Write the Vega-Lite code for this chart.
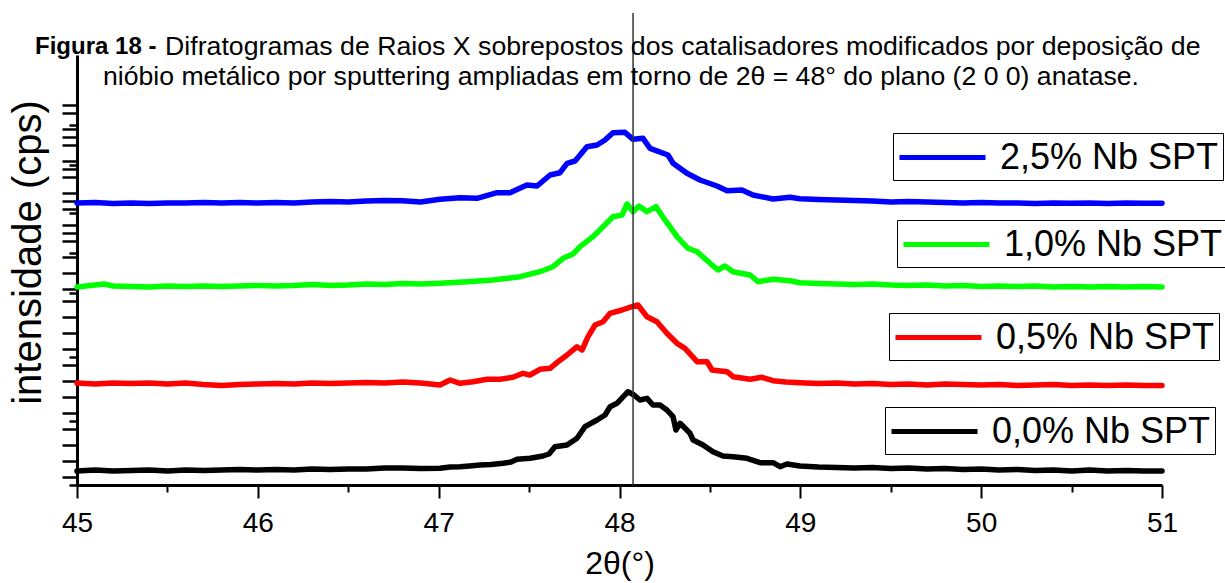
{
"$schema": "https://vega.github.io/schema/vega-lite/v6.json",
"autosize": "none",
"width": 1085,
"height": 430,
"padding": {"left": 77, "top": 55, "right": 63, "bottom": 98},
"background": "white",
"config": {"view": {"stroke": null}, "axis": {"grid": false, "domainColor": "black", "tickColor": "black", "labelColor": "black", "titleColor": "black", "labelFont": "Liberation Sans", "titleFont": "Liberation Sans"},
 "legend": {"orient": "none", "title": null, "strokeColor": "black", "padding": 4, "cornerRadius": 0, "symbolType": "M-2.39,0H2.39", "symbolStrokeWidth": 5, "symbolSize": 1296, "symbolOffset": 25, "labelFontSize": 36, "labelFont": "Liberation Sans", "labelColor": "black", "labelOffset": 37, "labelLimit": 400}},
"datasets": {
"curvas": [
{"amostra":"0,0% Nb SPT","theta":45.0,"intensidade":14},{"amostra":"0,0% Nb SPT","theta":45.1,"intensidade":15},{"amostra":"0,0% Nb SPT","theta":45.2,"intensidade":14},{"amostra":"0,0% Nb SPT","theta":45.3,"intensidade":14.5},{"amostra":"0,0% Nb SPT","theta":45.4,"intensidade":15},{"amostra":"0,0% Nb SPT","theta":45.5,"intensidade":14},{"amostra":"0,0% Nb SPT","theta":45.6,"intensidade":15},{"amostra":"0,0% Nb SPT","theta":45.7,"intensidade":14.5},{"amostra":"0,0% Nb SPT","theta":45.8,"intensidade":15},{"amostra":"0,0% Nb SPT","theta":45.9,"intensidade":15.5},{"amostra":"0,0% Nb SPT","theta":46.0,"intensidade":15},{"amostra":"0,0% Nb SPT","theta":46.1,"intensidade":15.5},{"amostra":"0,0% Nb SPT","theta":46.2,"intensidade":15},{"amostra":"0,0% Nb SPT","theta":46.3,"intensidade":16},{"amostra":"0,0% Nb SPT","theta":46.4,"intensidade":15.5},{"amostra":"0,0% Nb SPT","theta":46.5,"intensidade":16},{"amostra":"0,0% Nb SPT","theta":46.6,"intensidade":16},{"amostra":"0,0% Nb SPT","theta":46.7,"intensidade":17},{"amostra":"0,0% Nb SPT","theta":46.8,"intensidade":17},{"amostra":"0,0% Nb SPT","theta":46.9,"intensidade":16.5},{"amostra":"0,0% Nb SPT","theta":47.007,"intensidade":16.7},{"amostra":"0,0% Nb SPT","theta":47.063,"intensidade":18},{"amostra":"0,0% Nb SPT","theta":47.118,"intensidade":18.3},{"amostra":"0,0% Nb SPT","theta":47.17,"intensidade":19},{"amostra":"0,0% Nb SPT","theta":47.229,"intensidade":20},{"amostra":"0,0% Nb SPT","theta":47.29,"intensidade":20.5},{"amostra":"0,0% Nb SPT","theta":47.356,"intensidade":21.7},{"amostra":"0,0% Nb SPT","theta":47.4,"intensidade":23},{"amostra":"0,0% Nb SPT","theta":47.433,"intensidade":25.7},{"amostra":"0,0% Nb SPT","theta":47.505,"intensidade":26.7},{"amostra":"0,0% Nb SPT","theta":47.577,"intensidade":29},{"amostra":"0,0% Nb SPT","theta":47.61,"intensidade":31},{"amostra":"0,0% Nb SPT","theta":47.643,"intensidade":38.3},{"amostra":"0,0% Nb SPT","theta":47.71,"intensidade":40},{"amostra":"0,0% Nb SPT","theta":47.765,"intensidade":46.7},{"amostra":"0,0% Nb SPT","theta":47.809,"intensidade":58.3},{"amostra":"0,0% Nb SPT","theta":47.876,"intensidade":65},{"amostra":"0,0% Nb SPT","theta":47.92,"intensidade":70},{"amostra":"0,0% Nb SPT","theta":47.948,"intensidade":78.3},{"amostra":"0,0% Nb SPT","theta":47.986,"intensidade":81.7},{"amostra":"0,0% Nb SPT","theta":48.047,"intensidade":93.3},{"amostra":"0,0% Nb SPT","theta":48.08,"intensidade":90},{"amostra":"0,0% Nb SPT","theta":48.113,"intensidade":85},{"amostra":"0,0% Nb SPT","theta":48.152,"intensidade":86.7},{"amostra":"0,0% Nb SPT","theta":48.185,"intensidade":80},{"amostra":"0,0% Nb SPT","theta":48.224,"intensidade":80},{"amostra":"0,0% Nb SPT","theta":48.262,"intensidade":75},{"amostra":"0,0% Nb SPT","theta":48.296,"intensidade":68.3},{"amostra":"0,0% Nb SPT","theta":48.312,"intensidade":55},{"amostra":"0,0% Nb SPT","theta":48.335,"intensidade":61.7},{"amostra":"0,0% Nb SPT","theta":48.39,"intensidade":51.7},{"amostra":"0,0% Nb SPT","theta":48.407,"intensidade":45},{"amostra":"0,0% Nb SPT","theta":48.462,"intensidade":40},{"amostra":"0,0% Nb SPT","theta":48.517,"intensidade":33.3},{"amostra":"0,0% Nb SPT","theta":48.572,"intensidade":29},{"amostra":"0,0% Nb SPT","theta":48.628,"intensidade":28.3},{"amostra":"0,0% Nb SPT","theta":48.705,"intensidade":26.7},{"amostra":"0,0% Nb SPT","theta":48.777,"intensidade":22.3},{"amostra":"0,0% Nb SPT","theta":48.849,"intensidade":22.3},{"amostra":"0,0% Nb SPT","theta":48.888,"intensidade":18.3},{"amostra":"0,0% Nb SPT","theta":48.926,"intensidade":21},{"amostra":"0,0% Nb SPT","theta":48.998,"intensidade":19},{"amostra":"0,0% Nb SPT","theta":49.1,"intensidade":18},{"amostra":"0,0% Nb SPT","theta":49.2,"intensidade":17.5},{"amostra":"0,0% Nb SPT","theta":49.3,"intensidade":17},{"amostra":"0,0% Nb SPT","theta":49.4,"intensidade":17.5},{"amostra":"0,0% Nb SPT","theta":49.5,"intensidade":16.5},{"amostra":"0,0% Nb SPT","theta":49.6,"intensidade":17},{"amostra":"0,0% Nb SPT","theta":49.7,"intensidade":16},{"amostra":"0,0% Nb SPT","theta":49.8,"intensidade":16.5},{"amostra":"0,0% Nb SPT","theta":49.9,"intensidade":15.5},{"amostra":"0,0% Nb SPT","theta":50.0,"intensidade":16},{"amostra":"0,0% Nb SPT","theta":50.1,"intensidade":15},{"amostra":"0,0% Nb SPT","theta":50.2,"intensidade":15.5},{"amostra":"0,0% Nb SPT","theta":50.3,"intensidade":14.5},{"amostra":"0,0% Nb SPT","theta":50.4,"intensidade":15},{"amostra":"0,0% Nb SPT","theta":50.5,"intensidade":14},{"amostra":"0,0% Nb SPT","theta":50.6,"intensidade":15},{"amostra":"0,0% Nb SPT","theta":50.7,"intensidade":14},{"amostra":"0,0% Nb SPT","theta":50.8,"intensidade":14.5},{"amostra":"0,0% Nb SPT","theta":50.9,"intensidade":14},{"amostra":"0,0% Nb SPT","theta":51.0,"intensidade":14},

{"amostra":"0,5% Nb SPT","theta":45.0,"intensidade":102},{"amostra":"0,5% Nb SPT","theta":45.1,"intensidade":101},{"amostra":"0,5% Nb SPT","theta":45.2,"intensidade":102},{"amostra":"0,5% Nb SPT","theta":45.3,"intensidade":101.5},{"amostra":"0,5% Nb SPT","theta":45.4,"intensidade":102},{"amostra":"0,5% Nb SPT","theta":45.5,"intensidade":101},{"amostra":"0,5% Nb SPT","theta":45.6,"intensidade":102},{"amostra":"0,5% Nb SPT","theta":45.7,"intensidade":100.5},{"amostra":"0,5% Nb SPT","theta":45.8,"intensidade":99.5},{"amostra":"0,5% Nb SPT","theta":45.9,"intensidade":100.5},{"amostra":"0,5% Nb SPT","theta":46.0,"intensidade":101},{"amostra":"0,5% Nb SPT","theta":46.1,"intensidade":101.5},{"amostra":"0,5% Nb SPT","theta":46.2,"intensidade":101},{"amostra":"0,5% Nb SPT","theta":46.3,"intensidade":102},{"amostra":"0,5% Nb SPT","theta":46.4,"intensidade":101.5},{"amostra":"0,5% Nb SPT","theta":46.5,"intensidade":102},{"amostra":"0,5% Nb SPT","theta":46.6,"intensidade":102.5},{"amostra":"0,5% Nb SPT","theta":46.7,"intensidade":102},{"amostra":"0,5% Nb SPT","theta":46.8,"intensidade":103},{"amostra":"0,5% Nb SPT","theta":46.9,"intensidade":102},{"amostra":"0,5% Nb SPT","theta":47.007,"intensidade":100},{"amostra":"0,5% Nb SPT","theta":47.063,"intensidade":105},{"amostra":"0,5% Nb SPT","theta":47.118,"intensidade":101.7},{"amostra":"0,5% Nb SPT","theta":47.19,"intensidade":103.3},{"amostra":"0,5% Nb SPT","theta":47.267,"intensidade":105.7},{"amostra":"0,5% Nb SPT","theta":47.339,"intensidade":105.7},{"amostra":"0,5% Nb SPT","theta":47.411,"intensidade":107.7},{"amostra":"0,5% Nb SPT","theta":47.466,"intensidade":111.7},{"amostra":"0,5% Nb SPT","theta":47.505,"intensidade":110},{"amostra":"0,5% Nb SPT","theta":47.56,"intensidade":115.7},{"amostra":"0,5% Nb SPT","theta":47.616,"intensidade":116.7},{"amostra":"0,5% Nb SPT","theta":47.66,"intensidade":123.3},{"amostra":"0,5% Nb SPT","theta":47.71,"intensidade":130},{"amostra":"0,5% Nb SPT","theta":47.765,"intensidade":138.3},{"amostra":"0,5% Nb SPT","theta":47.793,"intensidade":135},{"amostra":"0,5% Nb SPT","theta":47.826,"intensidade":148.3},{"amostra":"0,5% Nb SPT","theta":47.865,"intensidade":160},{"amostra":"0,5% Nb SPT","theta":47.909,"intensidade":163.3},{"amostra":"0,5% Nb SPT","theta":47.948,"intensidade":171.7},{"amostra":"0,5% Nb SPT","theta":48.014,"intensidade":175},{"amostra":"0,5% Nb SPT","theta":48.069,"intensidade":178.3},{"amostra":"0,5% Nb SPT","theta":48.102,"intensidade":180},{"amostra":"0,5% Nb SPT","theta":48.152,"intensidade":168.3},{"amostra":"0,5% Nb SPT","theta":48.207,"intensidade":163.3},{"amostra":"0,5% Nb SPT","theta":48.262,"intensidade":151.7},{"amostra":"0,5% Nb SPT","theta":48.318,"intensidade":141.7},{"amostra":"0,5% Nb SPT","theta":48.362,"intensidade":136.7},{"amostra":"0,5% Nb SPT","theta":48.429,"intensidade":123.3},{"amostra":"0,5% Nb SPT","theta":48.484,"intensidade":123.3},{"amostra":"0,5% Nb SPT","theta":48.512,"intensidade":115},{"amostra":"0,5% Nb SPT","theta":48.595,"intensidade":113.3},{"amostra":"0,5% Nb SPT","theta":48.628,"intensidade":108.3},{"amostra":"0,5% Nb SPT","theta":48.722,"intensidade":105.7},{"amostra":"0,5% Nb SPT","theta":48.788,"intensidade":107.7},{"amostra":"0,5% Nb SPT","theta":48.849,"intensidade":104.3},{"amostra":"0,5% Nb SPT","theta":48.92,"intensidade":103},{"amostra":"0,5% Nb SPT","theta":48.998,"intensidade":102.3},{"amostra":"0,5% Nb SPT","theta":49.1,"intensidade":101.5},{"amostra":"0,5% Nb SPT","theta":49.2,"intensidade":102},{"amostra":"0,5% Nb SPT","theta":49.3,"intensidade":101},{"amostra":"0,5% Nb SPT","theta":49.4,"intensidade":101.5},{"amostra":"0,5% Nb SPT","theta":49.5,"intensidade":100.5},{"amostra":"0,5% Nb SPT","theta":49.6,"intensidade":101},{"amostra":"0,5% Nb SPT","theta":49.7,"intensidade":100},{"amostra":"0,5% Nb SPT","theta":49.8,"intensidade":101},{"amostra":"0,5% Nb SPT","theta":49.9,"intensidade":100.5},{"amostra":"0,5% Nb SPT","theta":50.0,"intensidade":100},{"amostra":"0,5% Nb SPT","theta":50.1,"intensidade":100.5},{"amostra":"0,5% Nb SPT","theta":50.2,"intensidade":99.5},{"amostra":"0,5% Nb SPT","theta":50.3,"intensidade":100},{"amostra":"0,5% Nb SPT","theta":50.4,"intensidade":100.5},{"amostra":"0,5% Nb SPT","theta":50.5,"intensidade":99.5},{"amostra":"0,5% Nb SPT","theta":50.6,"intensidade":100},{"amostra":"0,5% Nb SPT","theta":50.7,"intensidade":99.5},{"amostra":"0,5% Nb SPT","theta":50.8,"intensidade":100},{"amostra":"0,5% Nb SPT","theta":50.9,"intensidade":99.5},{"amostra":"0,5% Nb SPT","theta":51.0,"intensidade":99.5},

{"amostra":"1,0% Nb SPT","theta":45.0,"intensidade":198},{"amostra":"1,0% Nb SPT","theta":45.1,"intensidade":200},{"amostra":"1,0% Nb SPT","theta":45.15,"intensidade":201},{"amostra":"1,0% Nb SPT","theta":45.2,"intensidade":199},{"amostra":"1,0% Nb SPT","theta":45.3,"intensidade":198.5},{"amostra":"1,0% Nb SPT","theta":45.4,"intensidade":198},{"amostra":"1,0% Nb SPT","theta":45.5,"intensidade":199},{"amostra":"1,0% Nb SPT","theta":45.6,"intensidade":198.5},{"amostra":"1,0% Nb SPT","theta":45.7,"intensidade":199},{"amostra":"1,0% Nb SPT","theta":45.8,"intensidade":198.5},{"amostra":"1,0% Nb SPT","theta":45.9,"intensidade":199},{"amostra":"1,0% Nb SPT","theta":46.0,"intensidade":199.5},{"amostra":"1,0% Nb SPT","theta":46.1,"intensidade":199},{"amostra":"1,0% Nb SPT","theta":46.2,"intensidade":199.5},{"amostra":"1,0% Nb SPT","theta":46.3,"intensidade":200.5},{"amostra":"1,0% Nb SPT","theta":46.4,"intensidade":199.5},{"amostra":"1,0% Nb SPT","theta":46.5,"intensidade":200},{"amostra":"1,0% Nb SPT","theta":46.6,"intensidade":201},{"amostra":"1,0% Nb SPT","theta":46.7,"intensidade":200.5},{"amostra":"1,0% Nb SPT","theta":46.8,"intensidade":201.5},{"amostra":"1,0% Nb SPT","theta":46.9,"intensidade":201},{"amostra":"1,0% Nb SPT","theta":47.007,"intensidade":201.7},{"amostra":"1,0% Nb SPT","theta":47.157,"intensidade":203.3},{"amostra":"1,0% Nb SPT","theta":47.301,"intensidade":205},{"amostra":"1,0% Nb SPT","theta":47.45,"intensidade":208.3},{"amostra":"1,0% Nb SPT","theta":47.56,"intensidade":213.3},{"amostra":"1,0% Nb SPT","theta":47.632,"intensidade":218.3},{"amostra":"1,0% Nb SPT","theta":47.688,"intensidade":226.7},{"amostra":"1,0% Nb SPT","theta":47.743,"intensidade":231},{"amostra":"1,0% Nb SPT","theta":47.782,"intensidade":238.3},{"amostra":"1,0% Nb SPT","theta":47.853,"intensidade":248.3},{"amostra":"1,0% Nb SPT","theta":47.909,"intensidade":258.3},{"amostra":"1,0% Nb SPT","theta":47.964,"intensidade":268.3},{"amostra":"1,0% Nb SPT","theta":48.014,"intensidade":270},{"amostra":"1,0% Nb SPT","theta":48.042,"intensidade":281},{"amostra":"1,0% Nb SPT","theta":48.075,"intensidade":273.3},{"amostra":"1,0% Nb SPT","theta":48.108,"intensidade":279},{"amostra":"1,0% Nb SPT","theta":48.152,"intensidade":273.3},{"amostra":"1,0% Nb SPT","theta":48.202,"intensidade":278.3},{"amostra":"1,0% Nb SPT","theta":48.241,"intensidade":267.7},{"amostra":"1,0% Nb SPT","theta":48.279,"intensidade":258.3},{"amostra":"1,0% Nb SPT","theta":48.318,"intensidade":248.3},{"amostra":"1,0% Nb SPT","theta":48.379,"intensidade":236.7},{"amostra":"1,0% Nb SPT","theta":48.429,"intensidade":233.3},{"amostra":"1,0% Nb SPT","theta":48.501,"intensidade":221.7},{"amostra":"1,0% Nb SPT","theta":48.545,"intensidade":215},{"amostra":"1,0% Nb SPT","theta":48.583,"intensidade":219},{"amostra":"1,0% Nb SPT","theta":48.628,"intensidade":213.3},{"amostra":"1,0% Nb SPT","theta":48.722,"intensidade":210},{"amostra":"1,0% Nb SPT","theta":48.766,"intensidade":203.3},{"amostra":"1,0% Nb SPT","theta":48.849,"intensidade":205.7},{"amostra":"1,0% Nb SPT","theta":48.943,"intensidade":204.3},{"amostra":"1,0% Nb SPT","theta":48.998,"intensidade":202.3},{"amostra":"1,0% Nb SPT","theta":49.1,"intensidade":201.5},{"amostra":"1,0% Nb SPT","theta":49.2,"intensidade":201},{"amostra":"1,0% Nb SPT","theta":49.3,"intensidade":200.5},{"amostra":"1,0% Nb SPT","theta":49.4,"intensidade":201},{"amostra":"1,0% Nb SPT","theta":49.5,"intensidade":200},{"amostra":"1,0% Nb SPT","theta":49.6,"intensidade":199.5},{"amostra":"1,0% Nb SPT","theta":49.7,"intensidade":200},{"amostra":"1,0% Nb SPT","theta":49.8,"intensidade":199},{"amostra":"1,0% Nb SPT","theta":49.9,"intensidade":199.5},{"amostra":"1,0% Nb SPT","theta":50.0,"intensidade":198.5},{"amostra":"1,0% Nb SPT","theta":50.1,"intensidade":199},{"amostra":"1,0% Nb SPT","theta":50.2,"intensidade":198.5},{"amostra":"1,0% Nb SPT","theta":50.3,"intensidade":199},{"amostra":"1,0% Nb SPT","theta":50.4,"intensidade":198},{"amostra":"1,0% Nb SPT","theta":50.5,"intensidade":198.5},{"amostra":"1,0% Nb SPT","theta":50.6,"intensidade":198},{"amostra":"1,0% Nb SPT","theta":50.7,"intensidade":198.5},{"amostra":"1,0% Nb SPT","theta":50.8,"intensidade":198},{"amostra":"1,0% Nb SPT","theta":50.9,"intensidade":198.5},{"amostra":"1,0% Nb SPT","theta":51.0,"intensidade":198},

{"amostra":"2,5% Nb SPT","theta":45.0,"intensidade":282},{"amostra":"2,5% Nb SPT","theta":45.1,"intensidade":282.5},{"amostra":"2,5% Nb SPT","theta":45.2,"intensidade":281.5},{"amostra":"2,5% Nb SPT","theta":45.3,"intensidade":282},{"amostra":"2,5% Nb SPT","theta":45.4,"intensidade":281.5},{"amostra":"2,5% Nb SPT","theta":45.5,"intensidade":282},{"amostra":"2,5% Nb SPT","theta":45.6,"intensidade":282},{"amostra":"2,5% Nb SPT","theta":45.7,"intensidade":282.5},{"amostra":"2,5% Nb SPT","theta":45.8,"intensidade":282},{"amostra":"2,5% Nb SPT","theta":45.9,"intensidade":282.5},{"amostra":"2,5% Nb SPT","theta":46.0,"intensidade":282},{"amostra":"2,5% Nb SPT","theta":46.1,"intensidade":282.5},{"amostra":"2,5% Nb SPT","theta":46.2,"intensidade":282},{"amostra":"2,5% Nb SPT","theta":46.3,"intensidade":283},{"amostra":"2,5% Nb SPT","theta":46.4,"intensidade":283.5},{"amostra":"2,5% Nb SPT","theta":46.5,"intensidade":283},{"amostra":"2,5% Nb SPT","theta":46.6,"intensidade":284},{"amostra":"2,5% Nb SPT","theta":46.7,"intensidade":284.5},{"amostra":"2,5% Nb SPT","theta":46.8,"intensidade":284.3},{"amostra":"2,5% Nb SPT","theta":46.9,"intensidade":283},{"amostra":"2,5% Nb SPT","theta":47.007,"intensidade":285.7},{"amostra":"2,5% Nb SPT","theta":47.118,"intensidade":287.3},{"amostra":"2,5% Nb SPT","theta":47.212,"intensidade":286.7},{"amostra":"2,5% Nb SPT","theta":47.323,"intensidade":292.3},{"amostra":"2,5% Nb SPT","theta":47.394,"intensidade":292.3},{"amostra":"2,5% Nb SPT","theta":47.488,"intensidade":300},{"amostra":"2,5% Nb SPT","theta":47.544,"intensidade":299},{"amostra":"2,5% Nb SPT","theta":47.616,"intensidade":310},{"amostra":"2,5% Nb SPT","theta":47.671,"intensidade":312.3},{"amostra":"2,5% Nb SPT","theta":47.71,"intensidade":321.7},{"amostra":"2,5% Nb SPT","theta":47.754,"intensidade":324},{"amostra":"2,5% Nb SPT","theta":47.82,"intensidade":338.3},{"amostra":"2,5% Nb SPT","theta":47.876,"intensidade":340},{"amostra":"2,5% Nb SPT","theta":47.92,"intensidade":345},{"amostra":"2,5% Nb SPT","theta":47.964,"intensidade":352.3},{"amostra":"2,5% Nb SPT","theta":48.03,"intensidade":352.7},{"amostra":"2,5% Nb SPT","theta":48.075,"intensidade":345.7},{"amostra":"2,5% Nb SPT","theta":48.13,"intensidade":346.7},{"amostra":"2,5% Nb SPT","theta":48.169,"intensidade":336.7},{"amostra":"2,5% Nb SPT","theta":48.268,"intensidade":330},{"amostra":"2,5% Nb SPT","theta":48.296,"intensidade":321.7},{"amostra":"2,5% Nb SPT","theta":48.373,"intensidade":311.7},{"amostra":"2,5% Nb SPT","theta":48.445,"intensidade":305},{"amostra":"2,5% Nb SPT","theta":48.539,"intensidade":299},{"amostra":"2,5% Nb SPT","theta":48.595,"intensidade":294.3},{"amostra":"2,5% Nb SPT","theta":48.677,"intensidade":295},{"amostra":"2,5% Nb SPT","theta":48.738,"intensidade":290},{"amostra":"2,5% Nb SPT","theta":48.849,"intensidade":286},{"amostra":"2,5% Nb SPT","theta":48.943,"intensidade":287.7},{"amostra":"2,5% Nb SPT","theta":48.998,"intensidade":286.3},{"amostra":"2,5% Nb SPT","theta":49.1,"intensidade":285.5},{"amostra":"2,5% Nb SPT","theta":49.2,"intensidade":285},{"amostra":"2,5% Nb SPT","theta":49.3,"intensidade":284.5},{"amostra":"2,5% Nb SPT","theta":49.4,"intensidade":284},{"amostra":"2,5% Nb SPT","theta":49.5,"intensidade":283},{"amostra":"2,5% Nb SPT","theta":49.6,"intensidade":283.5},{"amostra":"2,5% Nb SPT","theta":49.7,"intensidade":283},{"amostra":"2,5% Nb SPT","theta":49.8,"intensidade":282.5},{"amostra":"2,5% Nb SPT","theta":49.9,"intensidade":282},{"amostra":"2,5% Nb SPT","theta":50.0,"intensidade":282.5},{"amostra":"2,5% Nb SPT","theta":50.1,"intensidade":282},{"amostra":"2,5% Nb SPT","theta":50.2,"intensidade":282},{"amostra":"2,5% Nb SPT","theta":50.3,"intensidade":281.5},{"amostra":"2,5% Nb SPT","theta":50.4,"intensidade":282},{"amostra":"2,5% Nb SPT","theta":50.5,"intensidade":281.7},{"amostra":"2,5% Nb SPT","theta":50.6,"intensidade":282},{"amostra":"2,5% Nb SPT","theta":50.7,"intensidade":281.5},{"amostra":"2,5% Nb SPT","theta":50.8,"intensidade":282},{"amostra":"2,5% Nb SPT","theta":50.9,"intensidade":281.7},{"amostra":"2,5% Nb SPT","theta":51.0,"intensidade":281.7}
]
},
"layer": [
{
"layer": [
{
"data": {"name": "curvas"},
"encoding": {
"x": {"field": "theta", "type": "quantitative", "scale": {"domain": [45, 51], "nice": false, "zero": false},
 "axis": {"title": "2θ(°)", "values": [45,46,47,48,49,50,51], "format": "d", "tickSize": 13, "tickWidth": 2, "domainWidth": 3, "labelFontSize": 28, "labelPadding": 11, "labelFlush": false, "titleFontSize": 32, "titleFontWeight": "normal", "titleY": 88, "titleBaseline": "alphabetic"}},
"y": {"field": "intensidade", "type": "quantitative", "scale": {"domain": [0, 430], "nice": false, "zero": false},
 "axis": {"title": "intensidade (cps)", "values": [0,16,32,48,64,80,96,112,128,144,160,176,192,200,208,224,232,240,256,264,272,288,296,304,320,328,336,352,360,368,384], "labels": false, "tickSize": 8, "tickWidth": 2.5, "domainWidth": 3, "titleFontSize": 40, "titleFontWeight": "normal", "titleAngle": 270, "titleX": -37, "titleY": 197, "titleAlign": "center", "titleBaseline": "alphabetic"}}
},
"layer": [
{"transform": [{"filter": "datum.amostra === '0,0% Nb SPT'"}], "mark": {"type": "line", "strokeWidth": 5.5, "strokeJoin": "round", "strokeCap": "round"},
 "encoding": {"color": {"field": "amostra", "type": "nominal", "scale": {"domain": ["0,0% Nb SPT"], "range": ["#000000"]}, "legend": {"legendX": 808, "legendY": 352}}}},
{"transform": [{"filter": "datum.amostra === '0,5% Nb SPT'"}], "mark": {"type": "line", "strokeWidth": 5.5, "strokeJoin": "round", "strokeCap": "round"},
 "encoding": {"color": {"field": "amostra", "type": "nominal", "scale": {"domain": ["0,5% Nb SPT"], "range": ["#FF0000"]}, "legend": {"legendX": 812, "legendY": 258}}}},
{"transform": [{"filter": "datum.amostra === '1,0% Nb SPT'"}], "mark": {"type": "line", "strokeWidth": 5.5, "strokeJoin": "round", "strokeCap": "round"},
 "encoding": {"color": {"field": "amostra", "type": "nominal", "scale": {"domain": ["1,0% Nb SPT"], "range": ["#00FF00"]}, "legend": {"legendX": 820, "legendY": 165}}}},
{"transform": [{"filter": "datum.amostra === '2,5% Nb SPT'"}], "mark": {"type": "line", "strokeWidth": 5.5, "strokeJoin": "round", "strokeCap": "round"},
 "encoding": {"color": {"field": "amostra", "type": "nominal", "scale": {"domain": ["2,5% Nb SPT"], "range": ["#0000FF"]}, "legend": {"legendX": 816, "legendY": 78}}}}
],
"resolve": {"scale": {"color": "independent"}, "legend": {"color": "independent"}}
},
{"data": {"values": [{"rotulo": "linha"}]}, "mark": {"type": "rule", "color": "#333333", "strokeWidth": 1.5, "clip": false},
 "encoding": {"x": {"datum": 48.075, "type": "quantitative"}, "y": {"datum": 0, "type": "quantitative"}, "y2": {"datum": 472}}},
{"data": {"values": [{"rotulo": "Figura 18 -"}]}, "mark": {"type": "text", "font": "Liberation Sans", "fontSize": 24, "fontWeight": "bold", "align": "left", "baseline": "middle", "color": "black"},
 "encoding": {"x": {"datum": 44.768, "type": "quantitative"}, "y": {"datum": 438, "type": "quantitative"}, "text": {"field": "rotulo"}}},
{"data": {"values": [{"rotulo": "Difratogramas de Raios X sobrepostos dos catalisadores modificados por deposição de"}]}, "mark": {"type": "text", "font": "Liberation Sans", "fontSize": 26.7, "align": "left", "baseline": "middle", "color": "black"},
 "encoding": {"x": {"datum": 45.487, "type": "quantitative"}, "y": {"datum": 438, "type": "quantitative"}, "text": {"field": "rotulo"}}},
{"data": {"values": [{"rotulo": "nióbio metálico por sputtering ampliadas em torno de 2θ = 48° do plano (2 0 0) anatase."}]}, "mark": {"type": "text", "font": "Liberation Sans", "fontSize": 26.6, "align": "center", "baseline": "middle", "color": "black"},
 "encoding": {"x": {"datum": 48.008, "type": "quantitative"}, "y": {"datum": 408, "type": "quantitative"}, "text": {"field": "rotulo"}}}
]
},
{"data": {"values": [{"rotulo": "marcas secundárias"}]}, "mark": {"type": "point", "opacity": 0},
 "encoding": {
 "x": {"datum": 45, "type": "quantitative", "scale": {"domain": [45, 51], "nice": false, "zero": false}, "axis": {"orient": "bottom", "title": null, "values": [45.5,46.5,47.5,48.5,49.5,50.5], "labels": false, "domain": false, "tickSize": 7, "tickWidth": 2}},
 "y": {"datum": 0, "type": "quantitative", "scale": {"domain": [0, 430], "nice": false, "zero": false}, "axis": {"orient": "left", "title": null, "values": [8,24,40,56,72,88,104,120,136,152,168,184,196,212,228,244,252,260,276,284,292,308,316,324,340,348,356,372,380], "labels": false, "domain": false, "tickSize": 15, "tickWidth": 2.5}}
 }}
],
"resolve": {"scale": {"x": "independent", "y": "independent", "color": "independent"}, "axis": {"x": "independent", "y": "independent"}, "legend": {"color": "independent"}}
}
